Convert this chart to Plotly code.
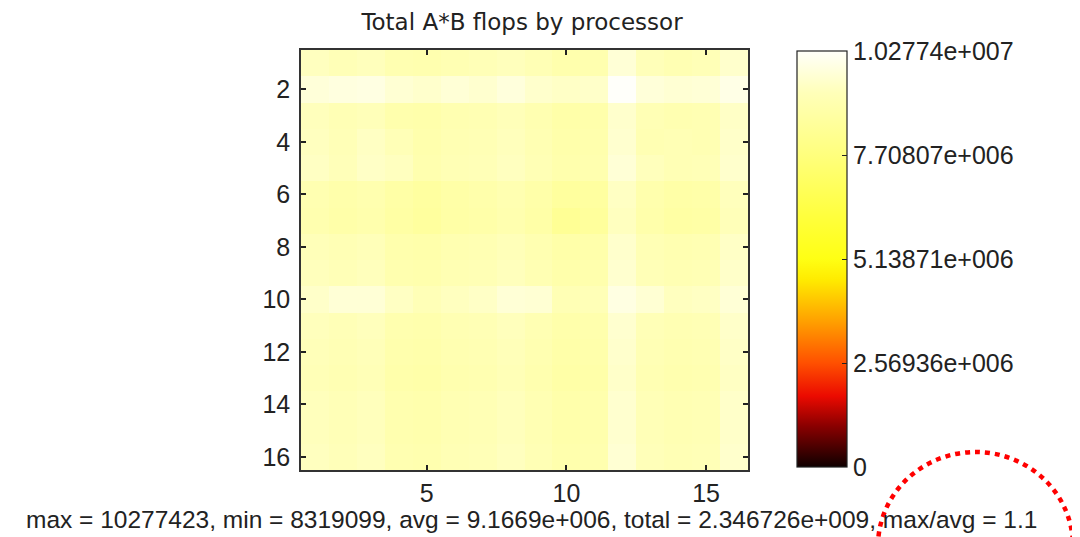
import plotly.graph_objects as go

# Processor grid indices
cols = list(range(1, 17))
rows = list(range(1, 17))

# Total A*B flops per processor (millions), rows top->bottom, cols left->right
flops_m = [
    [9.35, 9.20, 9.30, 9.05, 9.00, 9.10, 9.20, 9.30, 9.15, 8.95, 9.00, 9.70, 9.25, 9.10, 9.20, 9.55],
    [9.75, 9.85, 9.90, 9.65, 9.55, 9.70, 9.60, 9.80, 9.55, 9.45, 9.50, 10.2774, 9.75, 9.65, 9.70, 9.95],
    [9.30, 9.15, 9.25, 8.95, 8.90, 9.05, 9.10, 9.25, 9.05, 8.85, 8.90, 9.55, 9.15, 9.05, 9.10, 9.45],
    [9.35, 9.20, 9.40, 9.20, 8.95, 9.10, 9.15, 9.30, 9.10, 8.90, 8.95, 9.60, 9.10, 9.15, 9.10, 9.50],
    [9.40, 9.25, 9.45, 9.35, 9.00, 9.15, 9.20, 9.35, 9.15, 8.95, 9.00, 9.70, 9.30, 9.15, 9.20, 9.55],
    [9.05, 8.90, 9.00, 8.75, 8.60, 8.80, 8.90, 9.05, 8.85, 8.55, 8.60, 9.40, 8.95, 8.80, 8.85, 9.30],
    [9.00, 8.85, 8.95, 8.70, 8.55, 8.75, 8.85, 9.00, 8.80, 8.3191, 8.50, 9.35, 8.90, 8.70, 8.75, 9.25],
    [9.25, 9.15, 9.25, 8.95, 8.90, 9.05, 9.10, 9.25, 9.05, 8.85, 8.90, 9.55, 9.15, 9.05, 9.10, 9.45],
    [9.30, 9.20, 9.30, 9.00, 8.95, 9.10, 9.15, 9.30, 9.10, 8.90, 8.95, 9.60, 9.20, 9.10, 9.15, 9.50],
    [9.50, 9.70, 9.70, 9.40, 9.20, 9.35, 9.45, 9.70, 9.65, 9.15, 9.20, 9.90, 9.65, 9.35, 9.40, 9.70],
    [9.30, 9.20, 9.30, 9.00, 8.95, 9.10, 9.15, 9.30, 9.10, 8.90, 8.95, 9.60, 9.20, 9.10, 9.15, 9.50],
    [9.25, 9.15, 9.25, 8.95, 8.90, 9.05, 9.10, 9.25, 9.05, 8.85, 8.90, 9.55, 9.15, 9.05, 9.10, 9.45],
    [9.20, 9.10, 9.20, 8.90, 8.85, 9.00, 9.05, 9.20, 9.00, 8.80, 8.85, 9.50, 9.10, 9.00, 9.05, 9.40],
    [9.30, 9.20, 9.30, 9.00, 8.95, 9.10, 9.15, 9.30, 9.10, 8.90, 8.95, 9.60, 9.20, 9.10, 9.15, 9.50],
    [9.30, 9.20, 9.30, 9.00, 8.95, 9.10, 9.15, 9.30, 9.10, 8.90, 8.95, 9.60, 9.20, 9.10, 9.15, 9.50],
    [9.35, 9.25, 9.35, 9.05, 9.00, 9.15, 9.20, 9.35, 9.15, 8.95, 9.00, 9.65, 9.25, 9.15, 9.20, 9.55],
]

cbar_tickvals = [0, 2569356, 5138711, 7708067, 10277423]
cbar_ticktext = ["0", "2.56936e+006", "5.13871e+006", "7.70807e+006", "1.02774e+007"]
x_ticks = [5, 10, 15]
y_ticks = [2, 4, 6, 8, 10, 12, 14, 16]

title_text = "Total A*B flops by processor"
stats_text = ("max = 10277423, min = 8319099, avg = 9.1669e+006, "
              "total = 2.346726e+009, max/avg = 1.1")

z = [[v * 1e6 for v in row] for row in flops_m]

hot_like = [
    [0.00, "rgb(15,0,0)"],
    [0.10, "rgb(140,0,0)"],
    [0.17, "rgb(235,10,0)"],
    [0.25, "rgb(255,80,0)"],
    [0.35, "rgb(255,160,0)"],
    [0.45, "rgb(255,235,0)"],
    [0.50, "rgb(255,255,20)"],
    [0.60, "rgb(255,255,60)"],
    [0.75, "rgb(255,255,125)"],
    [0.85, "rgb(255,255,165)"],
    [0.90, "rgb(255,255,185)"],
    [0.95, "rgb(255,255,218)"],
    [1.00, "rgb(255,255,250)"],
]

OFF = 8  # page body margin in the browser
W, H = 1080, 537
# target screen positions of the plot area
SX0, SX1, SY0, SY1 = 301, 748, 50, 470
L = SX0 - OFF
T = SY0 - OFF
R = W - (SX1 - OFF)
B = H - (SY1 - OFF)
pw = SX1 - SX0
ph = SY1 - SY0

def px_x(p):
    return (p - SX0) / pw

def px_y(p):
    return (SY1 - p) / ph

FONT = "Arial, Liberation Sans"

fig = go.Figure(go.Heatmap(
    x=cols, y=rows, z=z,
    zmin=0, zmax=10277423,
    colorscale=hot_like,
    colorbar=dict(
        x=px_x(797), xanchor="left", xref="paper",
        y=px_y(51), yanchor="top", len=(467 - 51) / ph, lenmode="fraction",
        thickness=50, thicknessmode="pixels",
        outlinewidth=1.2, outlinecolor="#222",
        tickmode="array", tickvals=cbar_tickvals, ticktext=cbar_ticktext,
        ticks="inside", ticklen=5, tickcolor="#222",
        tickfont=dict(family=FONT, size=25, color="#222"),
        xpad=0, ypad=0,
    ),
))

axis_common = dict(
    showline=True, linecolor="#333", linewidth=1.5, mirror="ticks",
    ticks="inside", ticklen=5, tickcolor="#222", tickwidth=1.5,
    showgrid=False, zeroline=False,
    tickfont=dict(family=FONT, size=25, color="#222"),
)

fig.update_xaxes(range=[0.5, 16.5], tickmode="array", tickvals=x_ticks,
                 ticklabelstandoff=0, **axis_common)
fig.update_yaxes(range=[16.5, 0.5], tickmode="array", tickvals=y_ticks,
                 ticklabelstandoff=4, **axis_common)

fig.update_layout(
    width=W, height=H,
    margin=dict(l=L, r=R, t=T, b=B, pad=0),
    paper_bgcolor="white", plot_bgcolor="white",
    title=dict(text=title_text, x=px_x(522), xanchor="center", xref="paper",
               y=1 - (22 - OFF) / H, yanchor="middle",
               font=dict(family="DejaVu Sans", size=23, color="#222")),
    annotations=[dict(
        text=stats_text, xref="paper", yref="paper",
        x=px_x(1039), xanchor="right", y=px_y(519), yanchor="middle",
        showarrow=False,
        font=dict(family=FONT, size=24.5, color="#222"),
    )],
    shapes=[dict(
        type="circle", xref="paper", yref="paper",
        x0=px_x(878), x1=px_x(1073), y0=px_y(452), y1=px_y(640),
        line=dict(color="red", width=4.5, dash="5px,5px"),
    )],
)

fig.write_html("out.html")
